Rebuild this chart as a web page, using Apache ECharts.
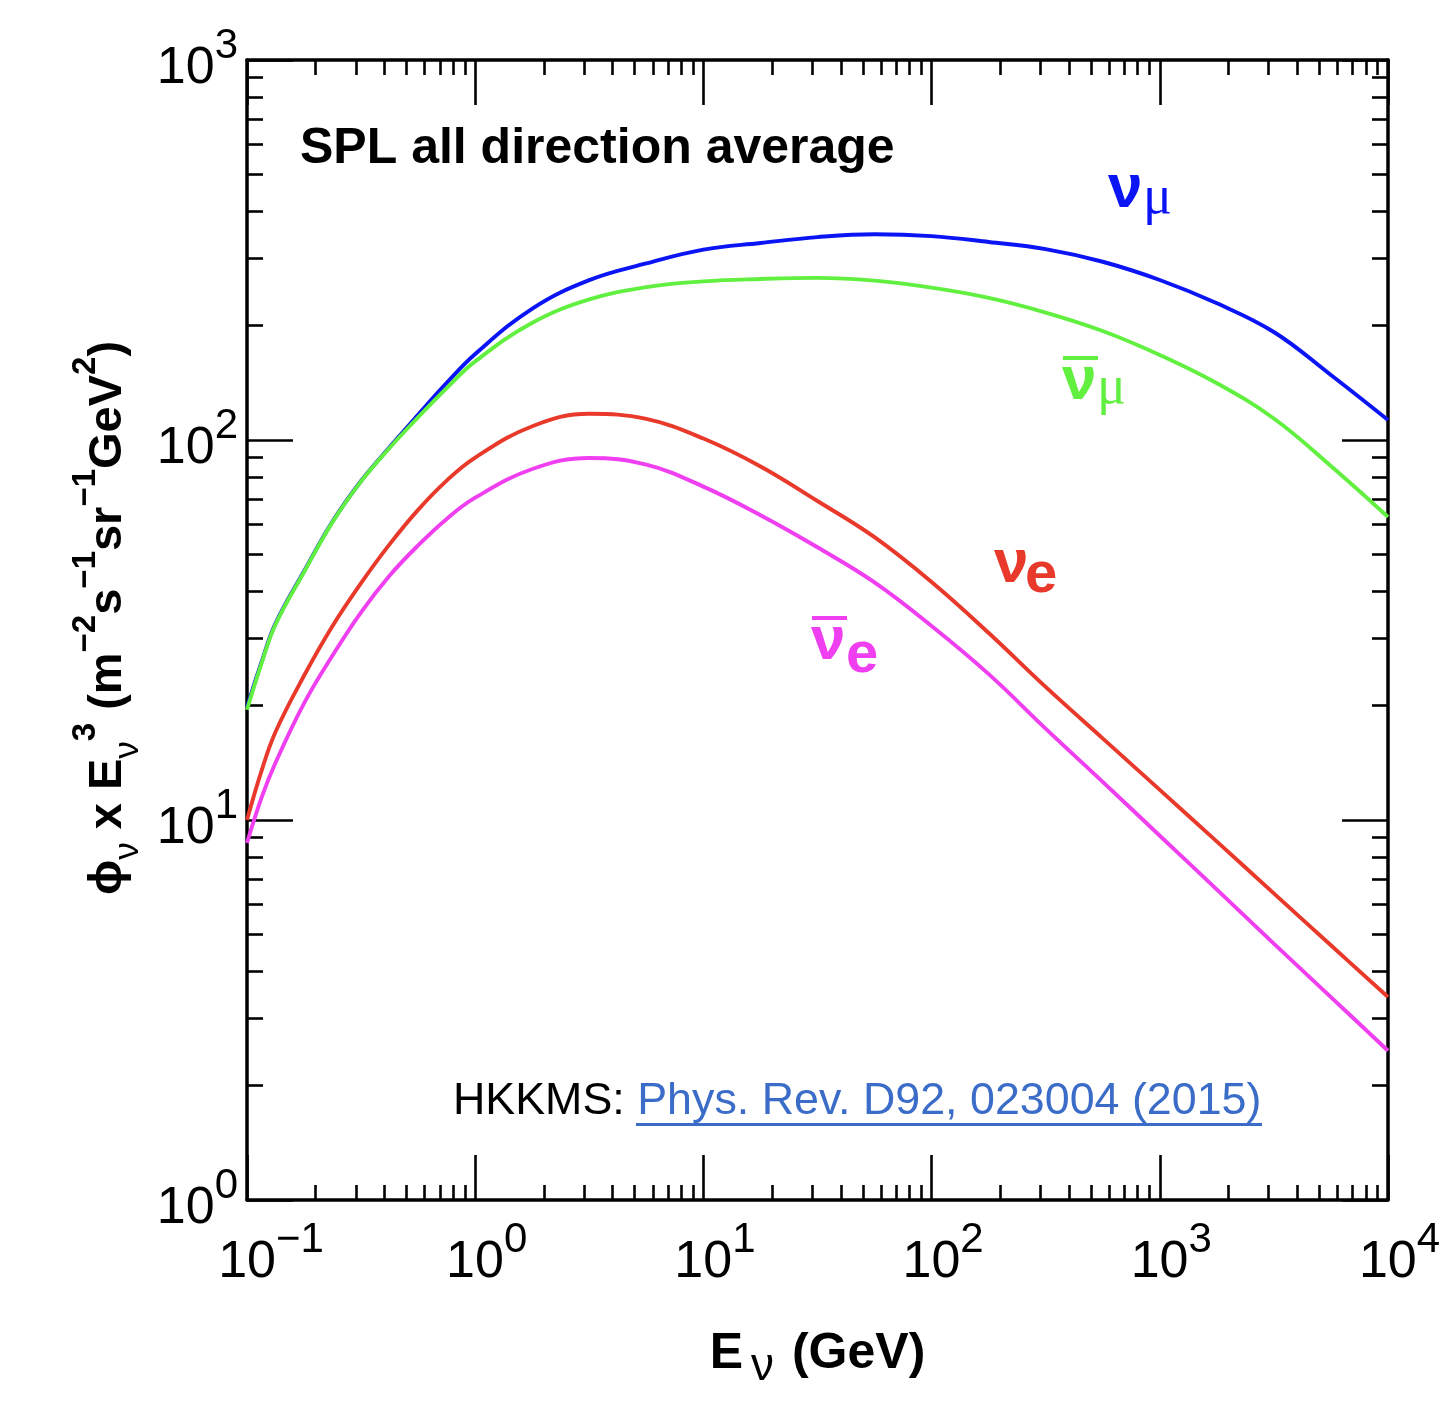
<!DOCTYPE html>
<html>
<head>
<meta charset="utf-8">
<title>SPL all direction average</title>
<style>
  html, body { margin: 0; padding: 0; background: #fff; }
  #chart-container { width: 1447px; height: 1408px; }
</style>
<script src="https://cdn.jsdelivr.net/npm/echarts@6/dist/echarts.min.js"></script>
</head>
<body>
<div id="chart-container"></div>
<script>
var dom = document.getElementById("chart-container");
var myChart = echarts.init(dom, null, { renderer: "canvas" });

// neutrino energy (GeV)
var energy = [0.1, 0.1155, 0.133, 0.178, 0.237, 0.316, 0.422, 0.562, 0.75, 1, 1.78, 3.16, 5.62,
  10, 17.8, 31.6, 56.2, 100, 178, 316, 562, 1000, 1780, 3160, 5620, 10000];
// phi x E^3  (m^-2 s^-1 sr^-1 GeV^2)
var numuFlux = [19.8, 25.9, 32.8, 45.2, 61.0, 78.0, 95.8, 116.5, 141.3, 168.4, 221.8, 263.4, 291.5,
  317, 330, 342, 348, 344, 332, 318, 294.5, 263.7, 228.9, 192.4, 148.3, 112.9];
var numubarFlux = [19.5, 25.7, 32.6, 45.0, 60.8, 77.8, 95.4, 114.8, 137.0, 161.0, 203.5, 234.4, 252.5,
  261.5, 265.3, 267.1, 262.6, 251.7, 236.6, 216.5, 193.6, 167.4, 141.0, 113.9, 85.4, 62.7];
var nueFlux = [10.0, 13.4, 17.0, 24.0, 32.4, 42.0, 53.2, 65.5, 78.2, 89.9, 108.7, 117.2, 113.6,
  100.9, 85.2, 69.1, 55.5, 42.3, 31.05, 22.4, 16.4, 12.0, 8.77, 6.41, 4.68, 3.42];
var nuebarFlux = [8.7, 11.4, 14.1, 20.3, 27.1, 35.2, 44.0, 52.8, 62.0, 70.5, 83.9, 89.7, 86.1,
  75.4, 63.4, 52.2, 42.2, 32.4, 24.2, 17.4, 12.6, 9.09, 6.56, 4.73, 3.42, 2.47];

// decade exponents used for the tick labels
var xExponents = [-1, 0, 1, 2, 3, 4];
var yExponents = [0, 1, 2, 3];
var minorSteps = [2, 3, 4, 5, 6, 7, 8, 9];

const font = "Liberation Sans, Arial, Helvetica, sans-serif";
const black = "#000";

function minorValues(exps) {
  var out = [];
  for (var i = 0; i < exps.length - 1; i++) {
    minorSteps.forEach(function (k) { out.push(exps[i] + Math.log10(k)); });
  }
  return out;
}

function expLabel(v, pad) {
  var e = Math.round(Math.log10(v));
  var s = e < 0 ? "\u2212" + (-e) : String(e);
  if (pad) return "{sp" + (e < 0 ? "2" : "1") + "| }{b|10}{s|" + s + "}";
  return "{b|10}{s|" + s + "}";
}

const labelRich = {
  b: { fontSize: 52, fontFamily: font, color: black, lineHeight: 70, verticalAlign: "bottom" },
  s: { fontSize: 42, fontFamily: font, color: black, lineHeight: 32, verticalAlign: "top" },
  sp1: { width: 23, fontSize: 10 },
  sp2: { width: 48, fontSize: 10 },
};

function majorAxis(pos, show, exps) {
  var isX = pos === "bottom" || pos === "top";
  return {
    type: "log",
    logBase: 10,
    position: pos,
    min: Math.pow(10, exps[0]),
    max: Math.pow(10, exps[exps.length - 1]),
    axisLine: { show: true, onZero: false, lineStyle: { color: black, width: 3.5 } },
    axisTick: { show: true, inside: true, length: isX ? 45 : 46, lineStyle: { color: black, width: 2.6 } },
    axisLabel: {
      show: show,
      margin: isX ? 19 : 9,
      showMinLabel: true,
      showMaxLabel: true,
      hideOverlap: false,
      formatter: function (v) { return expLabel(v, isX); },
      rich: labelRich,
    },
    splitLine: { show: false },
  };
}

function minorAxis(pos, exps) {
  var isX = pos === "bottom" || pos === "top";
  return {
    type: "value",
    position: pos,
    min: exps[0],
    max: exps[exps.length - 1],
    axisLine: { show: false, onZero: false },
    axisTick: { show: true, inside: true, length: isX ? 15 : 16, customValues: minorValues(exps),
      lineStyle: { color: black, width: 2.6 } },
    axisLabel: { show: false },
    splitLine: { show: false },
  };
}

function pairs(ys) {
  return energy.map(function (e, i) { return [e, ys[i]]; });
}

function curve(name, ys, color) {
  return {
    name: name,
    type: "line",
    xAxisIndex: 0,
    yAxisIndex: 0,
    data: pairs(ys),
    smooth: 0.4,
    showSymbol: false,
    lineStyle: { color: color, width: 3.9 },
    itemStyle: { color: color },
  };
}

const blue = "#0a14f5", green = "#62f040", red = "#e8392b", magenta = "#ef3ff0", link = "#3a6cc8";

var xMain = majorAxis("bottom", true, xExponents);
xMain.name = "{b|E}{sub|\u03bd}{b| (GeV)}";
xMain.nameLocation = "middle";
xMain.nameGap = 118;
xMain.nameTextStyle = {
  rich: {
    b: { fontSize: 50, fontWeight: "bold", fontFamily: font, color: black, lineHeight: 72, verticalAlign: "middle" },
    sub: { fontSize: 46, fontFamily: font, color: black, lineHeight: 40, verticalAlign: "bottom", padding: [0, 4, 0, 8] },
  },
};

var yMain = majorAxis("left", true, yExponents);
yMain.name = "{b|\u03d5}{sub|\u03bd}{b| x E}{sub|\u03bd}{sup|3}{b| (m}{sup|\u22122}{b|s}{sup|\u22121}{b|sr}{sup|\u22121}{b|GeV}{sup|2}{b|)}";
yMain.nameLocation = "middle";
yMain.nameRotate = 90;
yMain.nameGap = 96;
yMain.nameTextStyle = {
  padding: [0, 0, 0, 24],
  rich: {
    b: { fontSize: 47, fontWeight: "bold", fontFamily: font, color: black, lineHeight: 76, verticalAlign: "middle" },
    sup: { fontSize: 33, fontWeight: "bold", fontFamily: font, color: black, lineHeight: 40, verticalAlign: "top" },
    sub: { fontSize: 35, fontFamily: font, color: black, lineHeight: 40, verticalAlign: "bottom" },
  },
};

function txt(x, y, s, size, color, opts) {
  opts = opts || {};
  return {
    type: "text",
    x: x,
    y: y,
    z: 10,
    style: {
      text: s,
      fontSize: size,
      fontWeight: opts.weight || "bold",
      fontFamily: opts.family || font,
      fill: color,
      align: "left",
      verticalAlign: "middle",
    },
  };
}

function bar(x, y, w, color) {
  return { type: "rect", z: 10, shape: { x: x, y: y, width: w, height: 4 }, style: { fill: color } };
}

var option = {
  animation: false,
  backgroundColor: "#fff",
  title: {
    text: "SPL all direction average",
    left: 300,
    top: 124,
    padding: 0,
    textStyle: { fontSize: 50, fontWeight: "bold", fontFamily: font, color: black },
  },
  grid: {
    left: 247,
    right: 59,
    top: 60,
    bottom: 208,
    containLabel: false,
    outerBoundsMode: "none",
  },
  xAxis: [
    xMain,
    majorAxis("top", false, xExponents),
    minorAxis("bottom", xExponents),
    minorAxis("top", xExponents),
  ],
  yAxis: [
    yMain,
    majorAxis("right", false, yExponents),
    minorAxis("left", yExponents),
    minorAxis("right", yExponents),
  ],
  series: [
    curve("\u03bd\u03bc", numuFlux, blue),
    curve("anti-\u03bd\u03bc", numubarFlux, green),
    curve("\u03bde", nueFlux, red),
    curve("anti-\u03bde", nuebarFlux, magenta),
  ],
  graphic: [
    // curve labels
    txt(1108, 190, "\u03bd", 62, blue),
    txt(1143, 199, "\u03bc", 54, blue, { weight: "normal", family: "Liberation Serif, serif" }),
    bar(1063, 356, 35, green),
    txt(1062, 382, "\u03bd", 62, green),
    txt(1097, 389, "\u03bc", 54, green, { weight: "normal", family: "Liberation Serif, serif" }),
    txt(994, 565, "\u03bd", 62, red),
    txt(1025, 576, "e", 58, red),
    bar(812, 616, 35, magenta),
    txt(811, 642, "\u03bd", 62, magenta),
    txt(846, 656, "e", 58, magenta),
    // reference
    {
      type: "text",
      x: 453,
      y: 1102,
      z: 10,
      style: {
        text: "{k|HKKMS: }{l|Phys. Rev. D92, 023004 (2015)}",
        align: "left",
        verticalAlign: "middle",
        rich: {
          k: { fontSize: 44.8, fontFamily: font, fill: black },
          l: { fontSize: 44.8, fontFamily: font, fill: link },
        },
      },
    },
    { type: "rect", z: 10, shape: { x: 636, y: 1123, width: 626, height: 3 }, style: { fill: link } },
  ],
};

myChart.setOption(option);
window.addEventListener("resize", myChart.resize);
</script>
</body>
</html>
